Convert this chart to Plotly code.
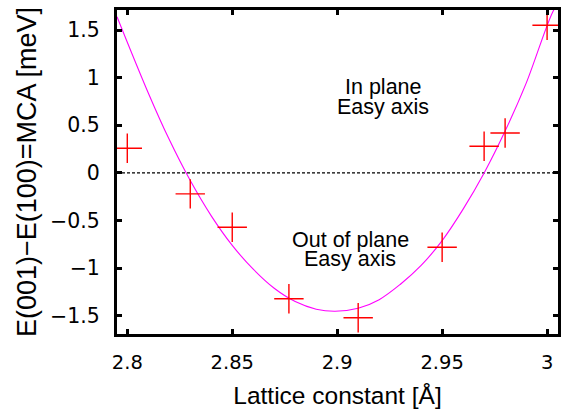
import plotly.graph_objects as go

# Data points (lattice constant [Å], MCA [meV])
lattice = [2.80, 2.83, 2.85, 2.877, 2.91, 2.95, 2.97, 2.98, 3.00]
mca = [0.26, -0.22, -0.57, -1.32, -1.52, -0.78, 0.28, 0.42, 1.55]

# Fitted curve
fit_x = [2.7951, 2.81, 2.82, 2.83, 2.84, 2.85, 2.86, 2.87, 2.88, 2.89, 2.899,
         2.91, 2.92, 2.93, 2.94, 2.95, 2.96, 2.97, 2.98, 2.99, 3.0027, 3.006]
fit_y = [1.64, 0.84, 0.35, -0.08, -0.45, -0.76, -1.01, -1.21, -1.35, -1.43, -1.452,
         -1.42, -1.33, -1.17, -0.97, -0.71, -0.38, 0.00, 0.44, 0.94, 1.69, 1.80]

x_ticks = [2.8, 2.85, 2.9, 2.95, 3.0]
x_tick_labels = ["2.8", "2.85", "2.9", "2.95", "3"]
y_ticks = [-1.5, -1, -0.5, 0, 0.5, 1, 1.5]
y_tick_labels = ["\u22121.5", "\u22121", "\u22120.5", "0", "0.5", "1", "1.5"]

x_range = [2.7951, 3.0052]
y_range = [-1.69, 1.71]

FONT = "Liberation Sans, Arial, Helvetica, sans-serif"
TICKFONT = "DejaVu Sans, Liberation Sans, sans-serif"

fig = go.Figure()

# zero line
fig.add_trace(go.Scatter(
    x=x_range, y=[0, 0], mode="lines",
    line=dict(color="black", width=1.2, dash="3px,2px"),
    hoverinfo="skip", showlegend=False,
))

fig.add_trace(go.Scatter(
    x=fit_x, y=fit_y, mode="lines",
    line=dict(color="#ff00ff", width=1.1, shape="spline", smoothing=1.0),
    showlegend=False,
))

fig.add_trace(go.Scatter(
    x=lattice, y=mca, mode="markers",
    marker=dict(symbol="cross-thin", size=21, line=dict(color="#ff0000", width=1.4)),
    showlegend=False,
))

annots = [
    ("In plane", 2.922, 0.905),
    ("Easy axis", 2.922, 0.695),
    ("Out of plane", 2.9063, -0.705),
    ("Easy axis", 2.9063, -0.905),
]
for txt, ax_, ay_ in annots:
    fig.add_annotation(x=ax_, y=ay_, text=txt, showarrow=False,
                       xanchor="center", yanchor="middle",
                       font=dict(family=FONT, size=21.5, color="black"))

axis_common = dict(
    showline=True, linecolor="black", linewidth=3, mirror="ticks",
    ticks="inside", ticklen=5, tickwidth=2.5, tickcolor="black",
    showgrid=False, zeroline=False,
)

fig.update_xaxes(
    range=x_range, tickvals=x_ticks, ticktext=x_tick_labels,
    ticklabelstandoff=9,
    tickfont=dict(family=TICKFONT, size=19.5, color="black"),
    title=dict(text="Lattice constant [Å]", font=dict(family=FONT, size=24.5, color="black"), standoff=14),
    **axis_common,
)
fig.update_yaxes(
    range=y_range, tickvals=y_ticks, ticktext=y_tick_labels,
    ticklabelstandoff=10,
    tickfont=dict(family=TICKFONT, size=20.5, color="black"),
    title=dict(text="E(001)\u2212E(100)=MCA [meV]", font=dict(family=FONT, size=27, color="black"), standoff=6),
    **axis_common,
)

fig.update_layout(
    width=567, height=409,
    margin=dict(l=117, r=9, t=10, b=75, autoexpand=False),
    paper_bgcolor="white", plot_bgcolor="white",
)

fig.write_html("out.html")
